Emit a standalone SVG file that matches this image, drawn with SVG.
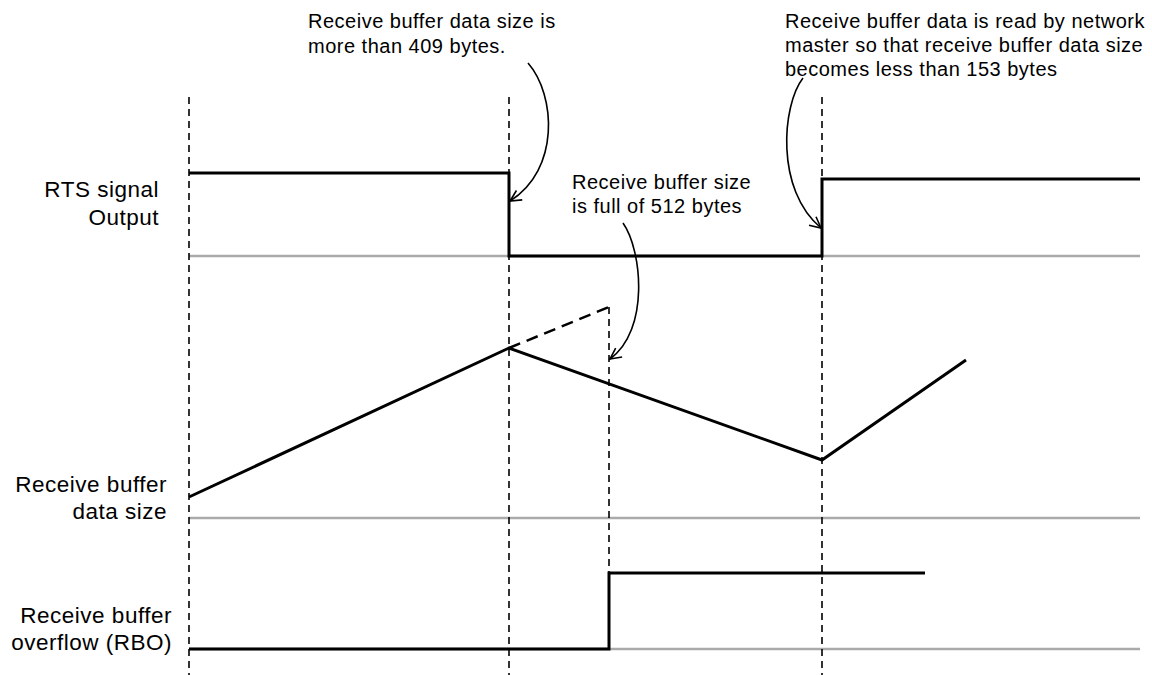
<svg xmlns="http://www.w3.org/2000/svg" width="1152" height="675" viewBox="0 0 1152 675">
  <style>
    .lbl { font-family: "Liberation Sans", Arial, sans-serif; font-size: 22.5px; letter-spacing: 0.5px; fill: #000; text-anchor: end; }
    .ann { font-family: "Liberation Sans", Arial, sans-serif; font-size: 20px; letter-spacing: 0.5px; fill: #000; }
    .base { stroke: #aaaaaa; stroke-width: 2.6; fill: none; }
    .sig { stroke: #000; stroke-width: 3; fill: none; stroke-linejoin: miter; stroke-linecap: butt; }
    .vdash { stroke: #000; stroke-width: 1.6; stroke-dasharray: 7 5; fill: none; }
    .sdash { stroke: #000; stroke-width: 2.5; stroke-dasharray: 12 7; fill: none; }
    .ptr { stroke: #000; stroke-width: 1.6; fill: none; }
  </style>
  <defs>
    <marker id="open" markerUnits="userSpaceOnUse" markerWidth="14" markerHeight="14" viewBox="-12 -7 14 14" refX="0" refY="0" orient="auto">
      <path d="M-11,-5.5 L0,0 L-11,5.5" fill="none" stroke="#000" stroke-width="1.6"/>
    </marker>
  </defs>
  <rect width="1152" height="675" fill="#fff"/>

  <g id="baselines">
    <line class="base" x1="189" y1="256" x2="1140" y2="256"/>
    <line class="base" x1="189" y1="518" x2="1140" y2="518"/>
    <line class="base" x1="189" y1="649" x2="1140" y2="649"/>
  </g>

  <g id="time-markers">
    <line class="vdash" x1="189" y1="97" x2="189" y2="675"/>
    <line class="vdash" x1="509" y1="97" x2="509" y2="675"/>
    <line class="vdash" x1="822" y1="97" x2="822" y2="675"/>
    <line class="vdash" x1="609" y1="307" x2="609" y2="573"/>
  </g>

  <g id="rts-signal">
    <text class="lbl" x="159" y="197">RTS signal</text>
    <text class="lbl" x="159" y="225">Output</text>
    <polyline class="sig" points="189,173 509,173 509,256 822,256 822,179 1140,179"/>
  </g>

  <g id="data-size">
    <text class="lbl" x="167" y="492">Receive buffer</text>
    <text class="lbl" x="167" y="519">data size</text>
    <polyline class="sig" points="189,497 509,348 822,460 966,360"/>
    <line class="sdash" x1="509" y1="348" x2="609" y2="307"/>
  </g>

  <g id="rbo-signal">
    <text class="lbl" x="172" y="623">Receive buffer</text>
    <text class="lbl" x="172" y="650">overflow (RBO)</text>
    <polyline class="sig" points="189,649 609,649 609,573 925,573"/>
  </g>

  <g id="annotation-409">
    <text class="ann" x="308" y="28">Receive buffer data size is</text>
    <text class="ann" x="308" y="53">more than 409 bytes.</text>
  </g>
  <g id="annotation-512">
    <text class="ann" x="572" y="189">Receive buffer size</text>
    <text class="ann" x="572" y="213">is full of 512 bytes</text>
  </g>
  <g id="annotation-153">
    <text class="ann" x="785" y="28">Receive buffer data is read by network</text>
    <text class="ann" x="785" y="52">master so that receive buffer data size</text>
    <text class="ann" x="785" y="76">becomes less than 153 bytes</text>
  </g>

  <g id="connectors">
    <path class="ptr" d="M528,63 C556,95 560,170 510,201" marker-end="url(#open)"/>
    <path class="ptr" d="M623,223 C642,250 650,330 610,359" marker-end="url(#open)"/>
    <path class="ptr" d="M803,78 C782,105 775,190 821,228" marker-end="url(#open)"/>
  </g>
</svg>
